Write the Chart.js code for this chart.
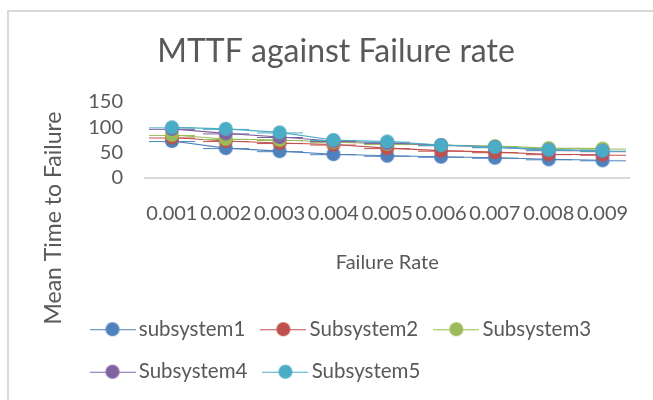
<!DOCTYPE html>
<html lang="en">
<head>
  <meta charset="UTF-8">
  <title>MTTF against Failure rate</title>
  <script src="https://cdn.jsdelivr.net/npm/chart.js"></script>
  <style>
    html, body { margin: 0; padding: 0; background: #fff; overflow: hidden; }
    .frame {
      position: absolute; left: 7px; top: 10px; width: 700px; height: 450px;
      border: 2px solid #d9d9d9;
    }
    .wrap { position: absolute; left: 0; top: 0; width: 653px; height: 420px; }
  </style>
</head>
<body>
  <div class="frame"></div>
  <div class="wrap"><canvas id="mttfChart"></canvas></div>

  <script>
    // failure rates on the x axis
    const failureRates = ['0.001', '0.002', '0.003', '0.004', '0.005', '0.006', '0.007', '0.008', '0.009'];

    // mean time to failure per subsystem
    const subsystem1 = [73, 59, 53, 47, 44, 42, 40, 37, 35];
    const subsystem2 = [80, 73, 69, 66, 59, 54, 51, 47, 46];
    const subsystem3 = [85, 77, 75, 71, 67, 65, 63, 59, 58];
    const subsystem4 = [97, 88, 81, 73, 69, 65, 61, 55, 53];
    const subsystem5 = [100, 97, 90, 75, 72, 65, 61, 56, 54];

    const seriesNames = ['subsystem1', 'Subsystem2', 'Subsystem3', 'Subsystem4', 'Subsystem5'];
    const seriesColors = ['#4f81bd', '#c0504d', '#9bbb59', '#8064a2', '#4bacc6'];
    const yTicks = [0, 50, 100, 150];

    const textColor = '#595959';
    const fontFamily = 'Lato, "Open Sans", sans-serif';

    // legend icon: thin line with a dot in the middle, like Excel
    function legendIcon(color) {
      const c = document.createElement('canvas');
      c.width = 46;
      c.height = 16;
      const g = c.getContext('2d');
      g.strokeStyle = color;
      g.lineWidth = 1;
      g.beginPath();
      g.moveTo(0, 8.5);
      g.lineTo(46, 8.5);
      g.stroke();
      g.fillStyle = color;
      g.beginPath();
      g.arc(23, 8, 7, 0, Math.PI * 2);
      g.fill();
      return c;
    }

    // title and y axis title are drawn by hand so they sit where Excel puts them
    const excelText = {
      id: 'excelText',
      afterDraw(chart) {
        const ctx = chart.ctx;
        ctx.save();
        ctx.fillStyle = textColor;
        ctx.textAlign = 'center';
        ctx.font = '32px ' + fontFamily;
        ctx.textBaseline = 'alphabetic';
        ctx.fillText('MTTF against Failure rate', 336, 62);

        ctx.translate(54, 218);
        ctx.rotate(-Math.PI / 2);
        ctx.font = '23px ' + fontFamily;
        ctx.textBaseline = 'middle';
        ctx.fillText('Mean Time to Failure', 0, 0);
        ctx.restore();
      }
    };

    const allSeries = [subsystem1, subsystem2, subsystem3, subsystem4, subsystem5];

    const datasets = allSeries.map((values, i) => ({
      label: seriesNames[i],
      data: values,
      borderColor: seriesColors[i],
      backgroundColor: seriesColors[i],
      pointBackgroundColor: seriesColors[i],
      pointBorderWidth: 0,
      pointRadius: 7.5,
      borderWidth: 1.1,
      tension: 0,
      pointStyle: legendIcon(seriesColors[i]),
      order: allSeries.length - i   // later series drawn on top
    }));

    const ctx = document.getElementById('mttfChart').getContext('2d');
    new Chart(ctx, {
      type: 'line',
      data: { labels: failureRates, datasets: datasets },
      options: {
        responsive: true,
        maintainAspectRatio: false,
        animation: false,
        elements: { point: { pointStyle: 'circle' } },
        layout: { padding: { left: 74.5, right: 16, top: 102, bottom: 28 } },
        plugins: {
          title: { display: false },
          tooltip: { enabled: false },
          legend: {
            position: 'bottom',
            align: 'start',
            labels: {
              usePointStyle: true,
              pointStyleWidth: 32,
              padding: 22,
              color: textColor,
              font: { family: fontFamily, size: 20.5 },
              sort: (a, b) => a.datasetIndex - b.datasetIndex,
              generateLabels(chart) {
                return chart.data.datasets.map((ds, i) => ({
                  text: ds.label,
                  datasetIndex: i,
                  pointStyle: ds.pointStyle,
                  fillStyle: ds.borderColor,
                  strokeStyle: ds.borderColor,
                  fontColor: textColor,
                  lineWidth: 0,
                  hidden: false
                }));
              }
            }
          }
        },
        scales: {
          x: {
            type: 'category',
            offset: true,
            grid: { display: false, drawTicks: false },
            border: { display: true, color: '#d9d9d9', width: 2 },
            ticks: {
              color: textColor,
              font: { family: fontFamily, size: 20 },
              padding: 24,
              autoSkip: false,
              maxRotation: 0,
              minRotation: 0
            },
            title: {
              display: true,
              text: 'Failure Rate',
              color: textColor,
              font: { family: fontFamily, size: 20 },
              padding: { top: 1, bottom: 22 }
            }
          },
          y: {
            min: yTicks[0],
            max: yTicks[yTicks.length - 1],
            grid: { display: false, drawTicks: false },
            border: { display: false },
            afterFit(scale) { scale.width = 70.5; },
            afterBuildTicks(scale) { scale.ticks = yTicks.map(v => ({ value: v })); },
            ticks: {
              color: textColor,
              font: { family: fontFamily, size: 20 },
              padding: 22,
              autoSkip: false
            }
          }
        }
      },
      plugins: [excelText]
    });
  </script>
</body>
</html>
